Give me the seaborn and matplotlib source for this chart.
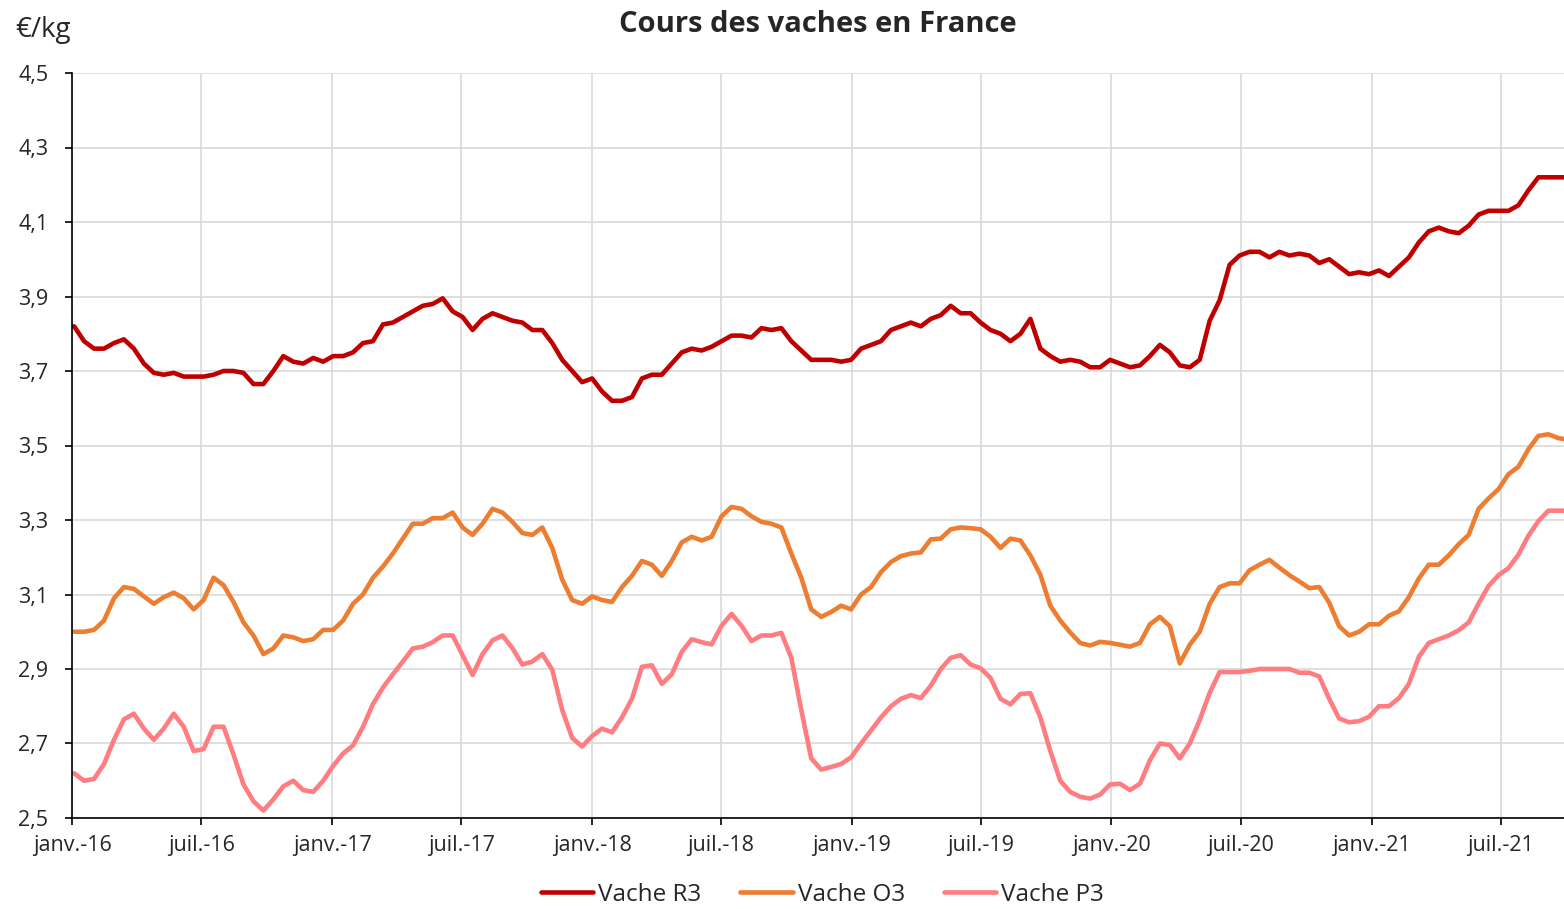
import pandas as pd
import numpy as np
import matplotlib
matplotlib.use('Agg')
import matplotlib.pyplot as plt
import seaborn as sns

# Data: weekly price quotes, read every two weeks (EUR/kg)
dates = pd.date_range('2016-01-04', periods=151, freq='14D')

r3 = [3.82, 3.78, 3.76, 3.76, 3.775, 3.785, 3.76, 3.72, 3.695, 3.69,
      3.695, 3.685, 3.685, 3.685, 3.69, 3.70, 3.70, 3.695, 3.665, 3.665,
      3.70, 3.74, 3.725, 3.72, 3.735, 3.725, 3.74, 3.74, 3.75, 3.775,
      3.78, 3.825, 3.83, 3.845, 3.86, 3.875, 3.88, 3.895, 3.86, 3.845,
      3.81, 3.84, 3.855, 3.845, 3.835, 3.83, 3.81, 3.81, 3.775, 3.73,
      3.70, 3.67, 3.68, 3.645, 3.62, 3.62, 3.63, 3.68, 3.69, 3.69,
      3.72, 3.75, 3.76, 3.755, 3.765, 3.78, 3.795, 3.795, 3.79, 3.815,
      3.81, 3.815, 3.78, 3.755, 3.73, 3.73, 3.73, 3.725, 3.73, 3.76,
      3.77, 3.78, 3.81, 3.82, 3.83, 3.82, 3.84, 3.85, 3.875, 3.855,
      3.855, 3.83, 3.81, 3.80, 3.78, 3.80, 3.84, 3.76, 3.74, 3.725,
      3.73, 3.725, 3.71, 3.71, 3.73, 3.72, 3.71, 3.715, 3.74, 3.77,
      3.75, 3.715, 3.71, 3.73, 3.835, 3.89, 3.985, 4.01, 4.02, 4.02,
      4.005, 4.02, 4.01, 4.015, 4.01, 3.99, 4.00, 3.98, 3.96, 3.965,
      3.96, 3.97, 3.955, 3.98, 4.005, 4.045, 4.075, 4.085, 4.075, 4.07,
      4.09, 4.12, 4.13, 4.13, 4.13, 4.145, 4.185, 4.22, 4.22, 4.22,
      4.22]

o3 = [3.00, 3.00, 3.005, 3.03, 3.09, 3.12, 3.115, 3.095, 3.075, 3.093,
      3.105, 3.09, 3.06, 3.085, 3.145, 3.125, 3.08, 3.025, 2.99, 2.94,
      2.955, 2.99, 2.985, 2.975, 2.98, 3.005, 3.005, 3.03, 3.075, 3.10,
      3.145, 3.175, 3.21, 3.25, 3.29, 3.29, 3.305, 3.305, 3.32, 3.28,
      3.26, 3.29, 3.33, 3.32, 3.295, 3.265, 3.26, 3.28, 3.225, 3.14,
      3.085, 3.075, 3.095, 3.085, 3.08, 3.12, 3.15, 3.19, 3.18, 3.15,
      3.19, 3.24, 3.255, 3.245, 3.255, 3.31, 3.335, 3.33, 3.31, 3.295,
      3.29, 3.28, 3.21, 3.145, 3.06, 3.04, 3.053, 3.07, 3.06, 3.10,
      3.12, 3.16, 3.187, 3.203, 3.21, 3.213, 3.248, 3.25, 3.275, 3.28,
      3.278, 3.275, 3.255, 3.225, 3.25, 3.245, 3.205, 3.153, 3.07, 3.03,
      2.998, 2.97, 2.963, 2.973, 2.97, 2.965, 2.96, 2.97, 3.02, 3.04,
      3.015, 2.915, 2.965, 3.00, 3.075, 3.12, 3.13, 3.13, 3.165, 3.18,
      3.193, 3.172, 3.152, 3.135, 3.117, 3.12, 3.078, 3.015, 2.99, 3.00,
      3.02, 3.02, 3.043, 3.055, 3.093, 3.143, 3.18, 3.18, 3.205, 3.235,
      3.26, 3.33, 3.358, 3.383, 3.423, 3.443, 3.49, 3.526, 3.53, 3.52,
      3.515]

p3 = [2.62, 2.60, 2.605, 2.645, 2.71, 2.765, 2.78, 2.74, 2.71, 2.74,
      2.78, 2.745, 2.68, 2.685, 2.745, 2.745, 2.67, 2.59, 2.545, 2.52,
      2.55, 2.585, 2.60, 2.575, 2.57, 2.60, 2.64, 2.673, 2.695, 2.745,
      2.806, 2.85, 2.886, 2.92, 2.955, 2.96, 2.972, 2.99, 2.99, 2.937,
      2.884, 2.94, 2.977, 2.99, 2.956, 2.912, 2.92, 2.94, 2.898, 2.79,
      2.715, 2.692, 2.72, 2.74, 2.73, 2.77, 2.82, 2.906, 2.91, 2.86,
      2.886, 2.946, 2.98, 2.972, 2.966, 3.016, 3.048, 3.016, 2.975, 2.99,
      2.99, 2.997, 2.93, 2.79, 2.66, 2.63, 2.637, 2.645, 2.663, 2.70,
      2.735, 2.77, 2.80, 2.82, 2.83, 2.822, 2.855, 2.90, 2.93, 2.937,
      2.912, 2.902, 2.876, 2.82, 2.805, 2.833, 2.835, 2.77, 2.68, 2.60,
      2.57, 2.557, 2.552, 2.563, 2.59, 2.592, 2.575, 2.592, 2.655, 2.70,
      2.696, 2.66, 2.70, 2.763, 2.836, 2.892, 2.892, 2.892, 2.895, 2.90,
      2.90, 2.90, 2.90, 2.89, 2.89, 2.88, 2.82, 2.767, 2.757, 2.76,
      2.772, 2.80, 2.80, 2.822, 2.86, 2.933, 2.97, 2.98, 2.99, 3.004,
      3.025, 3.076, 3.123, 3.152, 3.171, 3.207, 3.258, 3.297, 3.325, 3.325,
      3.325]

series_names = ['Vache R3', 'Vache O3', 'Vache P3']
colors = ['#C00000', '#ED7D31', '#FF7C80']

tick_dates = pd.to_datetime(['2016-01-01', '2016-07-01', '2017-01-01', '2017-07-01',
                             '2018-01-01', '2018-07-01', '2019-01-01', '2019-07-01',
                             '2020-01-01', '2020-07-01', '2021-01-01', '2021-07-01'])
tick_labels = ['janv.-16', 'juil.-16', 'janv.-17', 'juil.-17', 'janv.-18', 'juil.-18',
               'janv.-19', 'juil.-19', 'janv.-20', 'juil.-20', 'janv.-21', 'juil.-21']
y_ticks = [2.5, 2.7, 2.9, 3.1, 3.3, 3.5, 3.7, 3.9, 4.1, 4.3, 4.5]
y_labels = ['2,5', '2,7', '2,9', '3,1', '3,3', '3,5', '3,7', '3,9', '4,1', '4,3', '4,5']

# Long format for seaborn
wide = pd.DataFrame({'Date': dates, 'Vache R3': r3, 'Vache O3': o3, 'Vache P3': p3})
df = wide.melt(id_vars='Date', var_name='Serie', value_name='Prix')

sns.set_style('white')
plt.rcParams['font.family'] = ['Open Sans', 'DejaVu Sans']

fig = plt.figure(figsize=(15.64, 9.09), dpi=100)
ax = fig.add_axes([72 / 1564, 91 / 909, 1492 / 1564, 745 / 909])

sns.lineplot(data=df, x='Date', y='Prix', hue='Serie', hue_order=series_names,
             palette=dict(zip(series_names, colors)), linewidth=3.3, ax=ax)

ax.set_xlim(pd.Timestamp('2016-01-01'), pd.Timestamp('2021-09-28'))
ax.set_ylim(2.5, 4.5)
ax.set_xticks(tick_dates)
ax.set_xticklabels(tick_labels)
ax.set_yticks(y_ticks)
ax.set_yticklabels(y_labels)
ax.set_xlabel('')
ax.set_ylabel('')

ax.grid(True, color='#d9d9d9', linewidth=1.2)
ax.set_axisbelow(True)
for s in ['top', 'right']:
    ax.spines[s].set_visible(False)
for s in ['left', 'bottom']:
    ax.spines[s].set_color('black')
    ax.spines[s].set_linewidth(1.2)
ax.tick_params(axis='both', which='major', labelsize=15.5, length=5, width=1.2,
               color='black', left=True, bottom=True, direction='out')
ax.tick_params(axis='x', pad=7)
ax.tick_params(axis='y', pad=12)

sns.move_legend(ax, 'center', bbox_to_anchor=(0.503, -0.103), ncol=3, frameon=False,
                title=None, fontsize=17.5, handlelength=2.15, handletextpad=0.2,
                columnspacing=1.6, borderpad=0.2)
for line in ax.get_legend().get_lines():
    line.set_linewidth(3.3)

fig.text(818 / 1564, 1 - 25 / 909, 'Cours des vaches en France', ha='center', va='center',
         fontsize=21, fontweight='bold')
fig.text(15 / 1564, 1 - 30 / 909, '€/kg', ha='left', va='center', fontsize=20)

fig.savefig('out.png', dpi=100)
plt.close(fig)
